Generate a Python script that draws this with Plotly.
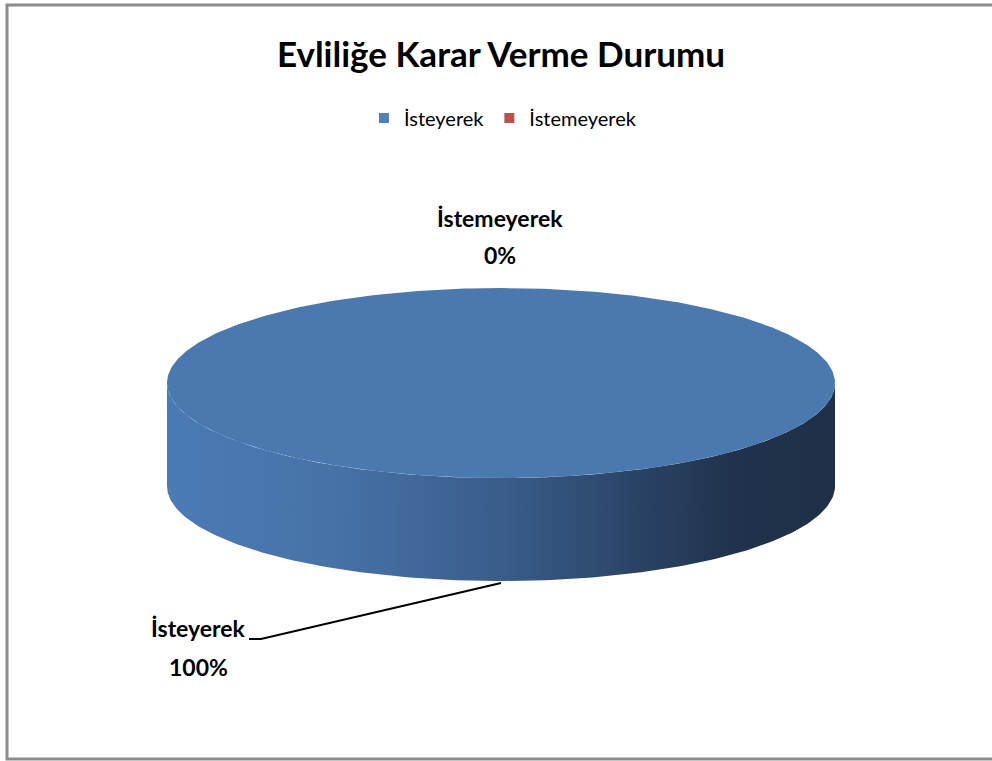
import numpy as np
import plotly.graph_objects as go

# ---- data ----
categories = ["İsteyerek", "İstemeyerek"]
values = [100, 0]
title_text = "Evliliğe Karar Verme Durumu"

# ---- style / geometry (pixels) ----
W, H = 992, 761
CX, CY, RX, RY, DEPTH = 501, 383, 334, 95, 103
TOP_COLOR = "#4A79B0"
LEGEND_COLORS = ["#4F81BD", "#C0504D"]
SIDE_SCALE = [[0, "#4B7BB5"], [0.25, "#4672A8"], [0.5, "#3A5D8B"],
              [0.7, "#2A4466"], [0.85, "#20324C"], [1, "#1F2F47"]]
FONT = "Lato"
LABEL_POS = {"İsteyerek": (198, 628, 39), "İstemeyerek": (500, 218, 37)}

total = sum(values)
fracs = [v / total for v in values]


def rim(theta, dy=0.0):
    return CX + RX * np.sin(theta), CY - RY * np.cos(theta) + dy


fig = go.Figure()

cum = 0.0
slices = []
for cat, f in zip(categories, fracs):
    a0, a1 = cum * 2 * np.pi, (cum + f) * 2 * np.pi
    slices.append((cat, f, a0, a1))
    cum += f

# side faces (front half only)
for cat, f, a0, a1 in slices:
    if f <= 0:
        continue
    s0, s1 = max(a0, np.pi / 2), min(a1, 3 * np.pi / 2)
    if s1 <= s0:
        continue
    th = np.linspace(s0, s1, 200)
    xt, yt = rim(th)
    xb, yb = rim(th[::-1], DEPTH)
    fig.add_trace(go.Scatter(
        x=np.concatenate([xt, xb]), y=np.concatenate([yt, yb]),
        fill="toself", mode="lines", line=dict(width=0),
        fillgradient=dict(type="horizontal", colorscale=SIDE_SCALE),
        showlegend=False, hoverinfo="skip"))

# top faces
for cat, f, a0, a1 in slices:
    if f <= 0:
        continue
    th = np.linspace(a0, a1, 400)
    xs, ys = rim(th)
    if f < 1:
        xs = np.concatenate([[CX], xs, [CX]])
        ys = np.concatenate([[CY], ys, [CY]])
    fig.add_trace(go.Scatter(
        x=xs, y=ys, fill="toself", mode="lines", line=dict(width=0),
        fillcolor=TOP_COLOR, showlegend=False,
        name=cat, hoverinfo="name"))

# legend entries
for cat, col in zip(categories, LEGEND_COLORS):
    fig.add_trace(go.Scatter(
        x=[None], y=[None], mode="markers", name=cat,
        marker=dict(symbol="square", size=10, color=col)))

# data labels
for cat, f, a0, a1 in slices:
    lx, ly, gap = LABEL_POS[cat]
    pct = f"{round(f * 100)}%"
    for txt, yy in ((cat, ly), (pct, ly + gap)):
        fig.add_annotation(x=lx, y=yy, text=f"<b>{txt}</b>", showarrow=False,
                           font=dict(family=FONT, size=23, color="#000"),
                           xanchor="center", yanchor="middle")
    if f >= 0.5:
        mid = (a0 + a1) / 2
        ex, ey = rim(mid, DEPTH)
        fig.add_trace(go.Scatter(
            x=[lx + 51, lx + 63, ex], y=[ly + 11, ly + 11, ey + 2],
            mode="lines", line=dict(color="#000", width=2),
            showlegend=False, hoverinfo="skip"))

fig.update_layout(
    width=W, height=H,
    margin=dict(l=0, r=0, t=0, b=0),
    paper_bgcolor="white", plot_bgcolor="white",
    title=dict(text=f"<b>{title_text}</b>", x=0.505, xanchor="center",
               y=1 - 55 / H, yanchor="middle",
               font=dict(family=FONT, size=35, color="#000")),
    legend=dict(orientation="h", x=0.507, xanchor="center",
                y=1 - 118 / H, yanchor="middle",
                font=dict(family=FONT, size=20, color="#000"),
                itemwidth=30, bgcolor="rgba(0,0,0,0)"),
    xaxis=dict(range=[0, W], visible=False, fixedrange=True),
    yaxis=dict(range=[H, 0], visible=False, fixedrange=True),
    shapes=[dict(type="rect", xref="paper", yref="paper",
                 x0=7 / W, x1=1.02, y0=1 - 759 / H, y1=1 - 5 / H,
                 line=dict(color="#8C8C8C", width=3))],
    showlegend=True,
)

fig.write_html("out.html", config={"displayModeBar": False},
               post_script="document.body.style.margin='0';")
